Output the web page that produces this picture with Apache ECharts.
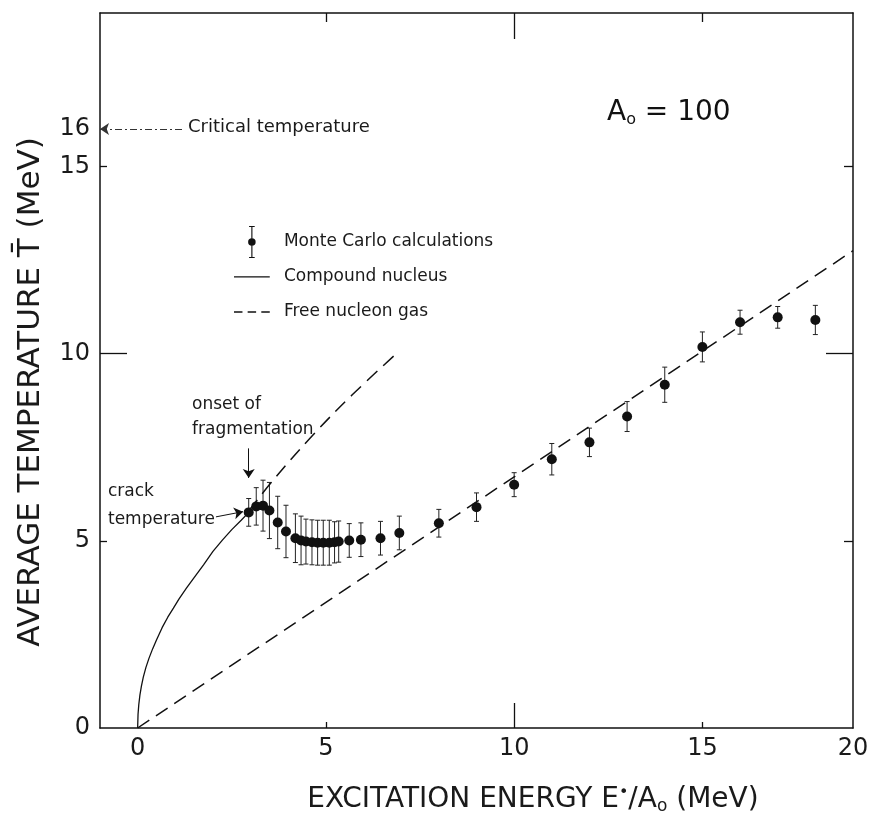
<!DOCTYPE html>
<html>
<head>
<meta charset="utf-8">
<script src="https://cdn.jsdelivr.net/npm/echarts@6/dist/echarts.min.js"></script>
<style>
  html, body { margin: 0; padding: 0; background: #fff; }
  #chart { width: 872px; height: 816px; }
</style>
</head>
<body>
<div id="chart"></div>
<script>
// Monte Carlo calculations (E*/A0 in MeV, mean T in MeV, half error bar)
const mcE = [2.95, 3.15, 3.33, 3.5, 3.72, 3.94, 4.19, 4.34, 4.47, 4.63, 4.78, 4.93, 5.09, 5.23, 5.34, 5.62, 5.93, 6.45, 6.95, 8, 9, 10, 11, 12, 13, 14, 15, 16, 17, 18];
const mcT = [5.76, 5.92, 5.94, 5.81, 5.49, 5.25, 5.07, 5.01, 4.98, 4.96, 4.95, 4.95, 4.95, 4.96, 4.98, 5.01, 5.03, 5.07, 5.21, 5.47, 5.90, 6.50, 7.18, 7.63, 8.32, 9.17, 10.18, 10.84, 10.97, 10.90];
const mcErr = [0.37, 0.5, 0.68, 0.75, 0.7, 0.7, 0.65, 0.65, 0.6, 0.6, 0.6, 0.6, 0.6, 0.55, 0.55, 0.45, 0.45, 0.45, 0.45, 0.37, 0.38, 0.32, 0.42, 0.38, 0.4, 0.47, 0.4, 0.32, 0.29, 0.39];

// compound nucleus (solid) and its dashed continuation
const compE = [0, 0.01, 0.03, 0.06, 0.1, 0.15, 0.22, 0.3, 0.4, 0.5, 0.65, 0.8, 0.95, 1.1, 1.3, 1.5, 1.75, 2.0, 2.25, 2.5, 2.75, 2.95];
const compT = [0, 0.36, 0.62, 0.88, 1.12, 1.36, 1.62, 1.86, 2.12, 2.35, 2.68, 2.96, 3.2, 3.45, 3.74, 4.02, 4.36, 4.72, 5.02, 5.3, 5.55, 5.76];
const extE = [2.95, 3.6, 4.65, 5.7, 6.87];
const extT = [5.8, 6.62, 7.82, 8.9, 10.0];

// free nucleon gas
const gasE = [0, 19];
const gasT = [0, 12.75];

// tick labels
const xLabelPos = [0, 5, 10, 15, 19];
const xLabelText = ['0', '5', '10', '15', '20'];
const yLabelPos = [0, 5, 10, 15, 16];
const yLabelText = ['0', '5', '10', '15', '16'];

const FONT = '"DejaVu Sans", sans-serif';
const INK = '#111';
const DASH = [14, 8];

const zip = (a, b) => a.map((v, i) => [v, b[i]]);

// one frame axis: line, inward ticks, optional labels
function frameAxis(pos, min, max, ticks, len, withLine, labels) {
    const ax = {
        type: 'value', min: min, max: max, position: pos,
        axisLine: { show: withLine, onZero: false, lineStyle: { color: INK, width: 1.5 } },
        axisTick: { show: true, inside: true, length: len, customValues: ticks, lineStyle: { color: INK, width: 1.3 } },
        axisLabel: { show: false },
        splitLine: { show: false }
    };
    if (labels) {
        ax.axisLabel = {
            show: true,
            customValues: labels.pos,
            formatter: v => labels.text[labels.pos.indexOf(v)],
            color: '#1a1a1a', fontFamily: FONT, fontSize: 24,
            margin: labels.margin
        };
    }
    return ax;
}

const xLab = { pos: xLabelPos, text: xLabelText, margin: 9 };
const yLab = { pos: yLabelPos, text: yLabelText, margin: 10 };

// legend icons; the line icons carry tiny corner specks so every row is the same height
const errIcon = 'path://M2,0 H8 V1 H5.6 V13 H4.4 V1 H2 Z M4.4,21 H5.6 V33 H8 V34 H2 V33 H4.4 Z M1,17 A4,4 0 1,1 9,17 A4,4 0 1,1 1,17 Z';
const solidIcon = 'path://M0,0 H0.01 V0.01 H0 Z M0,16.3 H38 V17.6 H0 Z M0,33.99 H0.01 V34 H0 Z';
const dashIcon = 'path://M0,0 H0.01 V0.01 H0 Z M0,16.3 H9 V17.7 H0 Z M14.5,16.3 H23.5 V17.7 H14.5 Z M29,16.3 H38 V17.7 H29 Z M0,33.99 H0.01 V34 H0 Z';

const chart = echarts.init(document.getElementById('chart'), null, { renderer: 'canvas' });

const option = {
    backgroundColor: '#fff',
    animation: false,
    grid: { left: 100, right: 19, top: 13, bottom: 88 },
    xAxis: [
        frameAxis('bottom', -1, 19, [5, 15], 6, true, xLab),
        frameAxis('top', -1, 19, [5, 15], 9, true),
        frameAxis('bottom', -1, 19, [10], 25, false),
        frameAxis('top', -1, 19, [10], 26, false)
    ],
    yAxis: [
        frameAxis('left', 0, 19.1, [5, 15], 7, true, yLab),
        frameAxis('right', 0, 19.1, [5, 15], 9, true),
        frameAxis('left', 0, 19.1, [10], 27, false),
        frameAxis('right', 0, 19.1, [10], 27, false)
    ],
    legend: {
        orient: 'vertical',
        left: 229, top: 221,
        itemWidth: 38, itemHeight: 32, itemGap: 3,
        selectedMode: false,
        data: [
            { name: 'Monte Carlo calculations', icon: errIcon },
            { name: 'Compound nucleus', icon: solidIcon },
            { name: 'Free nucleon gas', icon: dashIcon }
        ],
        textStyle: { fontFamily: FONT, fontSize: 17, color: '#1a1a1a', padding: [0, 0, 0, 8] }
    },
    series: [
        {
            name: 'Free nucleon gas',
            type: 'line',
            data: zip(gasE, gasT),
            symbol: 'none',
            itemStyle: { color: INK },
            lineStyle: { color: INK, width: 1.5, type: DASH },
            markLine: {
                silent: true,
                symbolSize: 9,
                label: { show: false },
                lineStyle: { color: INK, width: 1, type: 'solid' },
                data: [
                    [
                        { coord: [-1, 16], symbol: 'arrow', lineStyle: { type: [7, 3, 2, 3], color: '#333' } },
                        { coord: [1.25, 16], symbol: 'none' }
                    ],
                    [
                        { coord: [2.95, 7.47], symbol: 'none' },
                        { coord: [2.95, 6.68], symbol: 'arrow' }
                    ],
                    [
                        { coord: [2.08, 5.64], symbol: 'none' },
                        { coord: [2.8, 5.78], symbol: 'arrow' }
                    ]
                ]
            }
        },
        {
            name: 'Compound nucleus',
            type: 'line',
            data: zip(compE, compT),
            symbol: 'none',
            smooth: false,
            itemStyle: { color: INK },
            lineStyle: { color: INK, width: 1.3, type: 'solid' }
        },
        {
            name: 'Compound nucleus (extrapolated)',
            type: 'line',
            data: zip(extE, extT),
            symbol: 'none',
            smooth: 0.4,
            itemStyle: { color: INK },
            lineStyle: { color: INK, width: 1.5, type: DASH }
        },
        {
            name: 'error bars',
            type: 'custom',
            data: mcE.map((e, i) => [e, mcT[i] - mcErr[i], mcT[i] + mcErr[i]]),
            encode: { x: 0, y: [1, 2] },
            renderItem: function (params, api) {
                const top = api.coord([api.value(0), api.value(2)]);
                const bot = api.coord([api.value(0), api.value(1)]);
                const w = 2.5;
                const st = { stroke: '#222', lineWidth: 1 };
                return {
                    type: 'group',
                    children: [
                        { type: 'line', shape: { x1: top[0], y1: top[1], x2: bot[0], y2: bot[1] }, style: st },
                        { type: 'line', shape: { x1: top[0] - w, y1: top[1], x2: top[0] + w, y2: top[1] }, style: st },
                        { type: 'line', shape: { x1: bot[0] - w, y1: bot[1], x2: bot[0] + w, y2: bot[1] }, style: st }
                    ]
                };
            },
            z: 3
        },
        {
            name: 'Monte Carlo calculations',
            type: 'scatter',
            data: zip(mcE, mcT),
            symbol: 'circle',
            symbolSize: 10,
            itemStyle: { color: INK, opacity: 1 },
            z: 4
        }
    ],
    graphic: [
        {
            type: 'text', x: 31, y: 392, rotation: Math.PI / 2,
            style: { text: 'AVERAGE TEMPERATURE T\u0304 (MeV)', font: '31px ' + FONT, fill: '#1a1a1a', align: 'center', verticalAlign: 'middle' }
        },
        {
            type: 'text', x: 533, y: 800,
            style: {
                text: '{m|EXCITATION ENERGY E}{sup|\u2022}{m|/A}{sub|o}{m| (MeV)}',
                align: 'center', verticalAlign: 'middle', fill: '#1a1a1a',
                rich: {
                    m: { font: '28px ' + FONT, fill: '#1a1a1a' },
                    sup: { font: '16px ' + FONT, fill: '#1a1a1a', padding: [0, 0, 14, 0] },
                    sub: { font: '17px ' + FONT, fill: '#1a1a1a', padding: [14, 0, 0, 0] }
                }
            }
        },
        {
            type: 'text', x: 607, y: 113,
            style: {
                text: '{m|A}{sub|o}{m| = 100}',
                align: 'left', verticalAlign: 'middle', fill: '#111',
                rich: {
                    m: { font: '28px ' + FONT, fill: '#111' },
                    sub: { font: '16px ' + FONT, fill: '#111', padding: [14, 0, 0, 0] }
                }
            }
        },
        { type: 'text', x: 188, y: 127, style: { text: 'Critical temperature', font: '18px ' + FONT, fill: '#1a1a1a', verticalAlign: 'middle' } },
        { type: 'text', x: 192, y: 405, style: { text: 'onset of', font: '17px ' + FONT, fill: '#1a1a1a', verticalAlign: 'middle' } },
        { type: 'text', x: 192, y: 430, style: { text: 'fragmentation', font: '17px ' + FONT, fill: '#1a1a1a', verticalAlign: 'middle' } },
        { type: 'text', x: 108, y: 492, style: { text: 'crack', font: '17px ' + FONT, fill: '#1a1a1a', verticalAlign: 'middle' } },
        { type: 'text', x: 108, y: 520, style: { text: 'temperature', font: '17px ' + FONT, fill: '#1a1a1a', verticalAlign: 'middle' } }
    ]
};

chart.setOption(option);

window.addEventListener('resize', () => {
    chart.resize();
});
</script>
</body>
</html>
